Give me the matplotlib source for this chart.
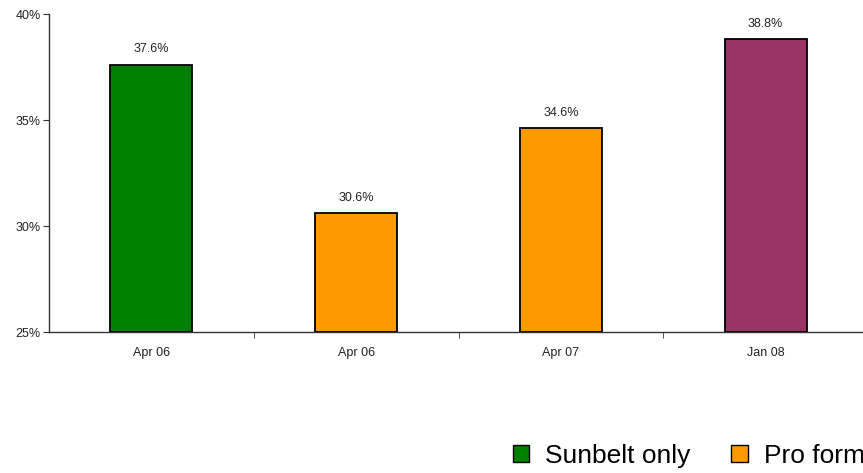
import matplotlib
matplotlib.use("Agg")
import matplotlib.pyplot as plt
from matplotlib.patches import Patch

plt.rcParams['font.family'] = ['Liberation Sans', 'DejaVu Sans']

categories = ["Apr 06", "Apr 06", "Apr 07", "Jan 08"]
values = [37.6, 30.6, 34.6, 38.8]
bar_colors = ["#008000", "#FF9900", "#FF9900", "#993366"]
legend_labels = ["Sunbelt only", "Pro forma"]
legend_colors = ["#008000", "#FF9900"]
y_ticks = [25, 30, 35, 40]

fig = plt.figure(figsize=(8.63, 4.73), dpi=100)
ax = fig.add_axes([49 / 863, 1 - 332 / 473, (868 - 49) / 863, (332 - 14) / 473])

x = list(range(len(categories)))
ax.bar(x, [v - 25 for v in values], bottom=25, width=0.4, color=bar_colors,
       edgecolor="black", linewidth=1.3, zorder=3)

for xi, v in zip(x, values):
    ax.annotate(f"{v:.1f}%", (xi, v), xytext=(0, 7), textcoords="offset points",
                ha="center", va="bottom", fontsize=9, color="#222222")

ax.set_xlim(-0.5, len(categories) - 0.5)
ax.set_ylim(25, 40)
ax.set_yticks(y_ticks)
ax.set_yticklabels([f"{t}%" for t in y_ticks], fontsize=9, color="#222222")
ax.set_xticks(x)
ax.set_xticklabels(categories, fontsize=9, color="#222222")
ax.set_xticks([i + 0.5 for i in x[:-1]], minor=True)
ax.tick_params(axis="x", which="major", length=0, pad=11)
ax.tick_params(axis="x", which="minor", length=4, direction="out", color="#333333")
ax.tick_params(axis="y", length=4, direction="out", pad=2, color="#333333")

for side in ("top", "right"):
    ax.spines[side].set_visible(False)
for side in ("left", "bottom"):
    ax.spines[side].set_color("#333333")
    ax.spines[side].set_linewidth(1.0)

handles = [Patch(facecolor=c, edgecolor="black", linewidth=1.0) for c in legend_colors]
fig.legend(handles, legend_labels, loc="center left", bbox_to_anchor=(513 / 863, 1 - 456 / 473),
           ncol=2, frameon=False, fontsize=19, borderpad=0, borderaxespad=0,
           handlelength=0.62, handleheight=0.62, handletextpad=0.6, columnspacing=1.55)

fig.savefig("out.png", dpi=100)
